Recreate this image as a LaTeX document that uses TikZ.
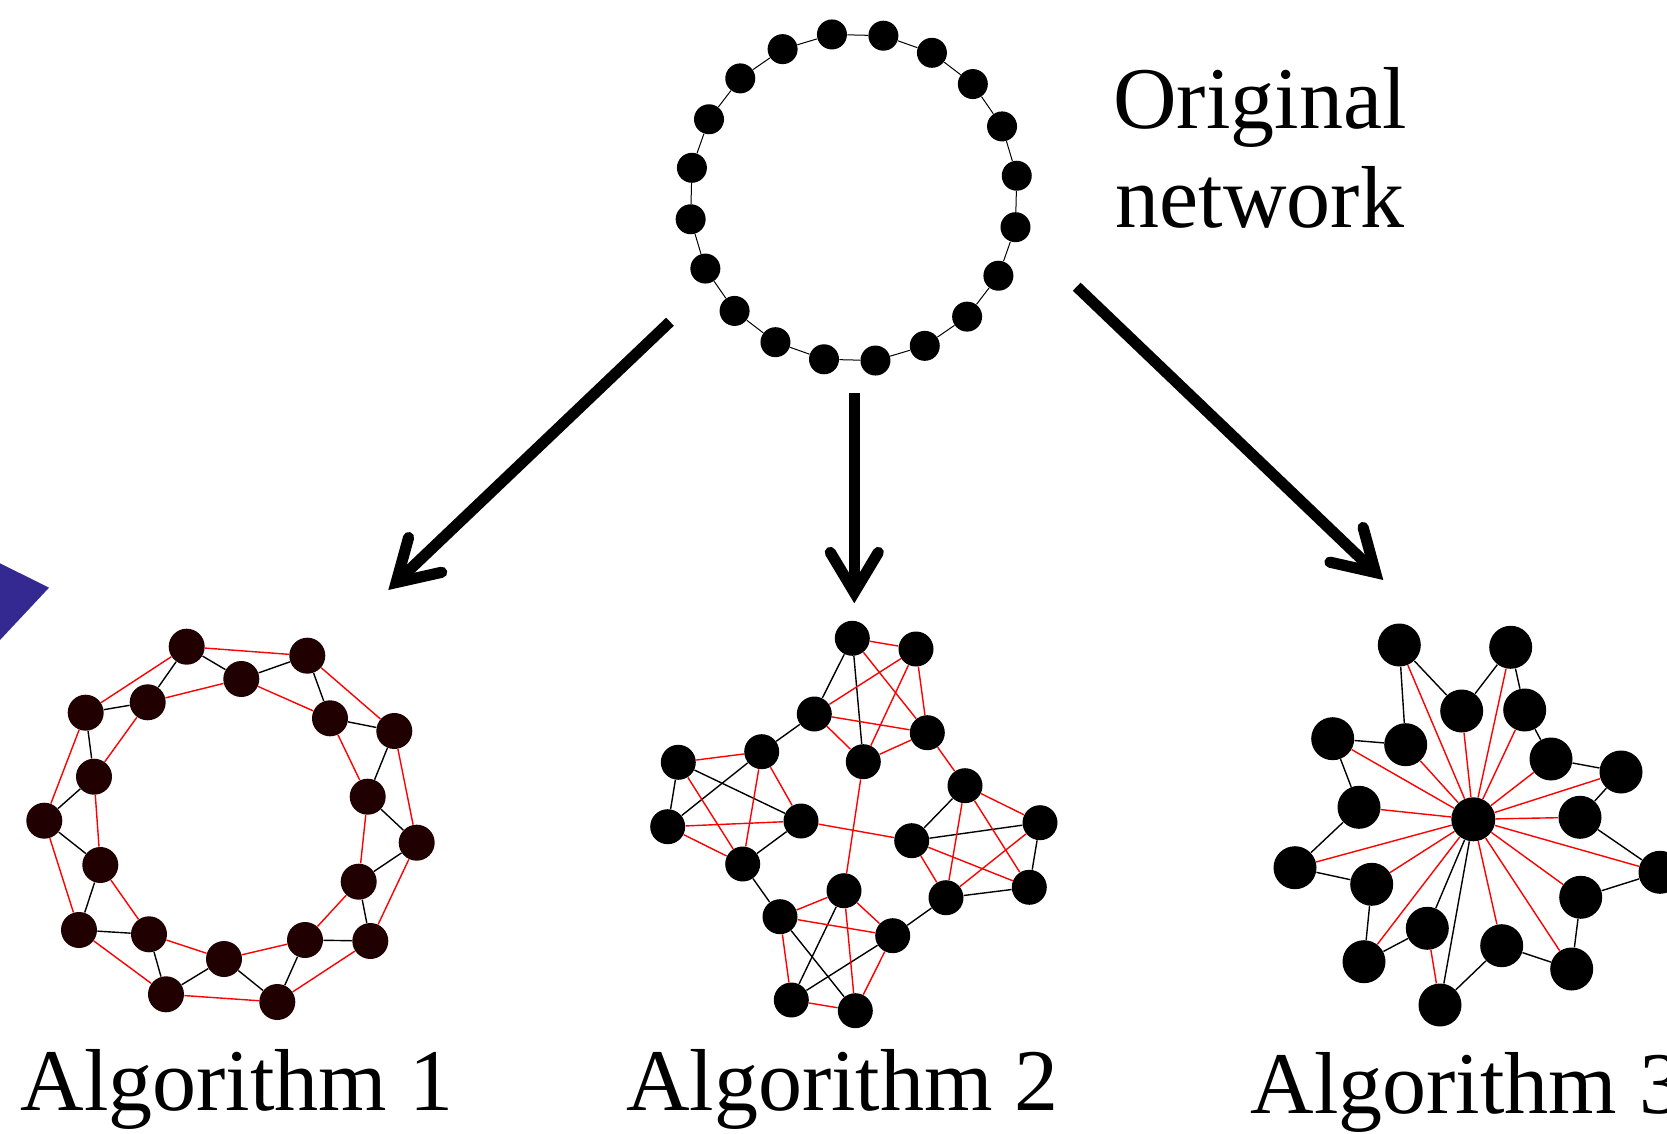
\documentclass[tikz,border=0pt]{standalone}
\usepackage{fontspec}
\setmainfont{Liberation Serif}
\usepackage{tikz}
\usetikzlibrary{arrows.meta,backgrounds}
\definecolor{dotdark}{RGB}{32,0,0}
\definecolor{wedgeblue}{RGB}{52,40,145}

\begin{document}
\begin{tikzpicture}[x=0.5pt, y=-0.5pt,
    netdot/.style={circle, fill=black, inner sep=0pt, minimum size=#1},
    netdot/.default=17.5pt,
    bedge/.style={black, line width=0.7pt},
    redge/.style={red, line width=0.7pt},
    bigarrow/.style={line width=5.6pt,
      -{Straight Barb[length=20pt, width=24pt, line cap=round, line join=miter]}},
    algname/.style={font=\fontsize{44}{49.4}\selectfont, inner sep=0pt}]
\useasboundingbox (0,0) rectangle (1667,1134);

% wedge cut by the left edge
\fill[wedgeblue] (-10,558.3) -- (49,587.7) -- (-10,650.7) -- cycle;

% original network: a ring of 20
\foreach \i in {1,...,20}
  \node[netdot=15pt] (o\i) at ({853.7+164.5*cos(115.6-18*\i)}, {197.5-164.5*sin(115.6-18*\i)}) {};
\node[algname, align=center, anchor=base] (orig) at (1260,227.5) {Original\\network};

% algorithm 1
\foreach \n/\x/\y in {1/186.7/646.7, 2/307.3/655.7, 3/241.3/679, 4/147.7/702.3,
    5/85.7/712.7, 6/330/718.3, 7/394.3/731, 8/94/776.7, 9/367.7/796.7,
    10/44.3/820.7, 11/416.7/842.7, 12/100.3/865, 13/358.7/881.7, 14/79/930,
    15/149/934.3, 16/305/940, 17/370.3/941, 18/224/959, 19/166/994.3, 20/277.3/1002}
  \node[netdot=18pt, fill=dotdark] (A\n) at (\x,\y) {};

% algorithm 2
\foreach \n/\x/\y in {1/852.3/638.3, 2/916/649, 3/814.3/714, 4/927.3/732.7,
    5/863.3/761.7, 6/761.7/751.7, 7/678.3/762.3, 8/801/821, 9/667.7/826.7,
    10/742.7/864, 11/965/785.7, 12/1040/822.7, 13/911.7/840.7, 14/946/897.7,
    15/1029.3/887.3, 16/844/890.7, 17/780/916.7, 18/892.7/935.7, 19/791.3/1000, 20/855.3/1010.7}
  \node[netdot] (B\n) at (\x,\y) {};

% algorithm 3
\node[netdot=22pt] (C0) at (1473.3,819.3) {};
\foreach \n/\x/\y in {1/1399.3/645, 2/1510.7/647.3, 3/1461.7/711, 4/1524.7/710,
    5/1332.7/738.7, 6/1405.7/744.7, 7/1551/759, 8/1621/772, 9/1359/807.3,
    10/1580/817.3, 11/1295/867.7, 12/1660/872.3, 13/1371.7/884.3, 14/1580.7/897.3,
    15/1427.3/928.3, 16/1501.7/945.7, 17/1364/961.7, 18/1571.7/969, 19/1440/1005}
  \node[netdot=21.5pt] (C\n) at (\x,\y) {};

\node[algname, anchor=base] (alg1) at (237,1110) {Algorithm 1};
\node[algname, anchor=base] (alg2) at (842.5,1110) {Algorithm 2};
\node[algname, anchor=base] (alg3) at (1467,1113) {Algorithm 3};

% edges go under the dots
\begin{scope}[on background layer]
\foreach \i in {1,...,20} {
  \pgfmathtruncatemacro\j{mod(\i,20)+1}
  \draw[black, line width=0.5pt] (o\i) -- (o\j);
}
\draw[bedge] (A1) -- (A3) -- (A2) -- (A6) -- (A7) -- (A9) -- (A11) -- (A13) -- (A17) -- (A16)
  -- (A20) -- (A18) -- (A19) -- (A15) -- (A14) -- (A12) -- (A10) -- (A8) -- (A5) -- (A4) -- (A1);
\draw[redge] (A1) -- (A2) -- (A7) -- (A11) -- (A17) -- (A20) -- (A19) -- (A14) -- (A10) -- (A5) -- (A1);
\draw[redge] (A3) -- (A6) -- (A9) -- (A13) -- (A16) -- (A18) -- (A15) -- (A12) -- (A8) -- (A4) -- (A3);

\foreach \u/\v in {1/3,1/5,7/9,7/8,6/9,8/10,11/13,13/12,12/15,14/15,16/19,17/20,18/19,3/6,10/17,18/14}
  \draw[bedge] (B\u) -- (B\v);
\foreach \u/\v in {1/2,1/4,2/3,2/5,2/4,3/4,3/5,5/4,7/6,7/10,6/10,6/8,9/8,9/10,11/12,11/14,11/15,
    13/15,13/14,12/14,16/17,16/18,16/20,17/18,17/19,18/20,19/20,4/11,5/16,8/13}
  \draw[redge] (B\u) -- (B\v);

\foreach \u/\v in {1/3,1/6,2/3,2/4,4/7,7/8,8/10,10/12,12/14,14/18,18/16,16/19,15/17,17/13,13/11,
    11/9,9/5,5/6,0/15,0/19}
  \draw[bedge] (C\u) -- (C\v);
\foreach \k in {1,...,14,16,17,18}
  \draw[redge] (C0) -- (C\k);
\draw[redge] (C15) -- (C19);
\end{scope}

% arrows from the original network
\coordinate (l0) at (670,321.7);   \coordinate (l1) at (388.3,590);
\coordinate (m0) at (854.3,393.3); \coordinate (m1) at (854.3,603.3);
\coordinate (r0) at (1076.7,286.7); \coordinate (r1) at (1383.3,580);
\draw[bigarrow] (l0) -- (l1);
\draw[bigarrow] (m0) -- (m1);
\draw[bigarrow] (r0) -- (r1);
\end{tikzpicture}
\end{document}
